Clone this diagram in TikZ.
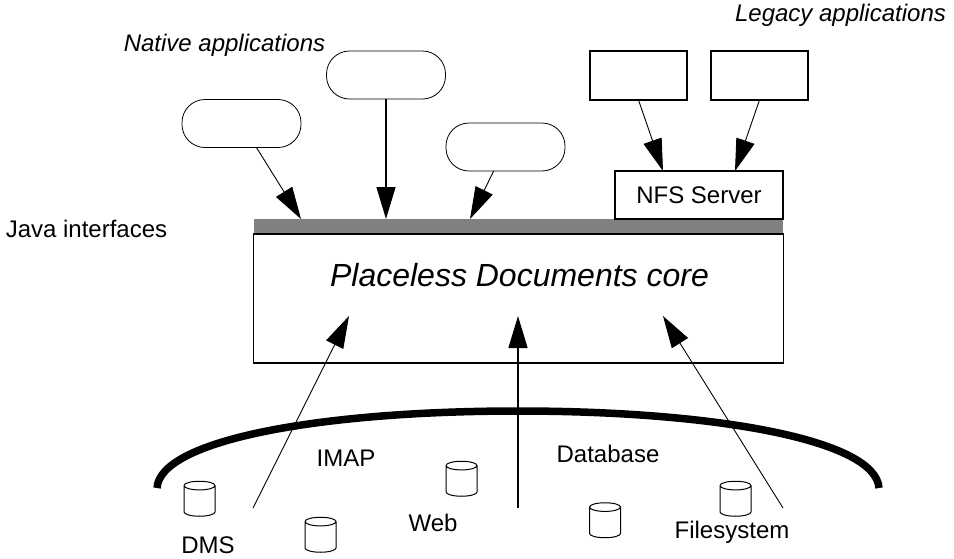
\documentclass[tikz,border=0pt]{standalone}
\usepackage{fontspec}
\setmainfont{Liberation Sans}
\usetikzlibrary{shapes, arrows.meta, positioning,
                shapes.geometric
                }

\begin{document}
\begin{tikzpicture}
[x=1pt, y=-1pt,
AppNode/.style={rectangle, draw=black, line width=0.8pt, rounded corners=23pt, outer sep=0pt,
minimum width=119pt, minimum height=48pt},
LegacyNode/.style={rectangle, draw=black, line width=1.3pt, outer sep=0pt,
minimum width=97pt, minimum height=49pt},
StoreNode/.style={cylinder, draw=black, line width=1pt, shape border rotate=90, shape aspect=1.3,
outer sep=0pt, minimum width=31pt, minimum height=35pt},
LabelNode/.style={font=\fontsize{24}{28}\selectfont, inner sep=0pt},
ItalicNode/.style={font=\fontsize{24}{28}\selectfont\itshape, inner sep=0pt},
Pointer/.style={-{Triangle[length=32pt,width=19pt]}, line width=0.9pt},
PointerThick/.style={Pointer, line width=1.4pt}
]
\useasboundingbox (0,0) rectangle (954,558);

\node[rectangle, fill=black!50, outer sep=0pt, minimum width=529pt, minimum height=15pt] (Bar) at (518.5,226.5) {};
\node[rectangle, draw=black, line width=1.3pt, outer sep=0pt, minimum width=530pt, minimum height=129pt] (Core) [below=0pt of Bar] {};
\node[rectangle, draw=black, line width=1.3pt, outer sep=0pt, minimum width=168pt, minimum height=48pt,
  font=\fontsize{24}{28}\selectfont] (Nfs) at (699,195) {NFS Server};
\node[font=\fontsize{32}{36}\selectfont\itshape, inner sep=0pt] (CoreLabel) at (519.5,275) {Placeless Documents core};

\node[AppNode] (AppLeft) at (241.5,123.5) {};
\node[AppNode] (AppMiddle) at (386,75) {};
\node[AppNode] (AppRight) at (505.5,147) {};
\node[LegacyNode] (LegacyLeft) at (638.5,75.5) {};
\node[LegacyNode] (LegacyRight) [right=24pt of LegacyLeft] {};

\node[ItalicNode] (Native) at (224.5,45) {Native applications};
\node[ItalicNode] (Legacy) at (840.5,15) {Legacy applications};
\node[LabelNode] (Java) at (86.5,229) {Java interfaces};

\node[StoreNode] (StoreDms) at (199.5,502.5) {};
\node[StoreNode] (StoreImap) at (320.5,538.5) {};
\node[StoreNode] (StoreWeb) at (461.5,482.5) {};
\node[StoreNode] (StoreDb) at (605,524) {};
\node[StoreNode] (StoreFile) at (735.5,502.5) {};

\node[LabelNode] (Dms) at (208,545) {DMS};
\node[LabelNode] (Imap) at (346,458) {IMAP};
\node[LabelNode] (Web) at (433,523) {Web};
\node[LabelNode] (Database) at (608,454) {Database};
\node[LabelNode] (Filesystem) at (732,532) {Filesystem};

\coordinate (InLeft) at (301,219);
\coordinate (InMiddle) at (386,219);
\coordinate (InRight) at (470,219);
\coordinate (NfsLeft) at (663,171);
\coordinate (NfsRight) at (735,171);
\coordinate (FromDms) at (253,508);
\coordinate (FromWeb) at (518,508);
\coordinate (FromFile) at (783,508);
\coordinate (CoreLeft) at (349,316);
\coordinate (CoreMiddle) at (518,316);
\coordinate (CoreRight) at (663,316);
\coordinate (ArcLeft) at (157,488);
\coordinate (ArcTop) at (518,411);
\coordinate (ArcRight) at (879,488);

\draw[line width=7.5pt] (ArcLeft) .. controls (160,440) and (320,411) .. (ArcTop)
  .. controls (716,411) and (876,440) .. (ArcRight);

\draw[Pointer] (AppLeft) -- (InLeft);
\draw[PointerThick] (AppMiddle) -- (InMiddle);
\draw[Pointer] (AppRight) -- (InRight);
\draw[Pointer] (LegacyLeft.south) -- (NfsLeft);
\draw[Pointer] (LegacyRight.south) -- (NfsRight);

\draw[Pointer] (FromDms) -- (CoreLeft);
\draw[PointerThick] (FromWeb) -- (CoreMiddle);
\draw[Pointer] (FromFile) -- (CoreRight);
\end{tikzpicture}
\end{document}
